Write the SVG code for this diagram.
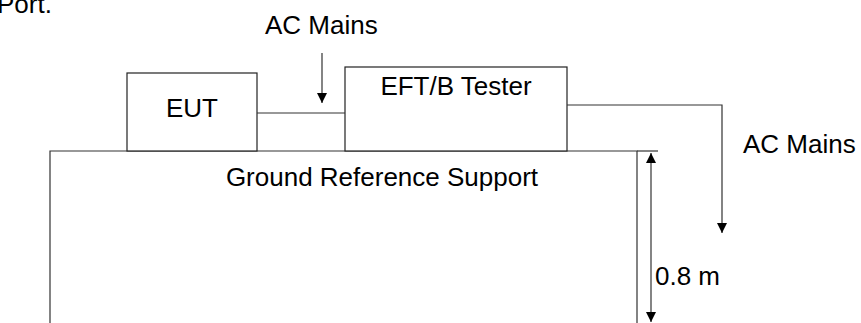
<svg xmlns="http://www.w3.org/2000/svg" width="861" height="323" viewBox="0 0 861 323">
  <style>
    .t { font-family: "Liberation Sans", Arial, sans-serif; font-size: 26px; fill: #000; }
    .box { fill: #fff; stroke: #222; stroke-width: 1.2; }
    .ln { fill: none; stroke: #333; stroke-width: 1.2; }
  </style>
  <defs>
    <marker id="ah" viewBox="0 0 10 10" refX="10" refY="5" markerWidth="10" markerHeight="10" markerUnits="userSpaceOnUse" orient="auto">
      <path d="M0,0 L10,5 L0,10 Z" fill="#000"/>
    </marker>
  </defs>
  <rect width="861" height="323" fill="#fff"/>
  <text class="t" x="-3" y="13">Port.</text>

  <g id="ground">
    <path class="ln" d="M50,323 V151 H637 V323"/>
    <text class="t" x="382" y="186" text-anchor="middle">Ground Reference Support</text>
  </g>

  <g id="eut">
    <rect class="box" x="127" y="73" width="130" height="78"/>
    <text class="t" x="192" y="117" text-anchor="middle">EUT</text>
  </g>

  <g id="tester">
    <rect class="box" x="345" y="67" width="222" height="84"/>
    <text class="t" x="456" y="95" text-anchor="middle">EFT/B Tester</text>
  </g>

  <g id="acmains-top">
    <text class="t" x="265" y="34">AC Mains</text>
  </g>

  <g id="acmains-right">
    <text class="t" x="743" y="153">AC Mains</text>
  </g>

  <g id="dimension">
    <text class="t" x="655" y="285">0.8 m</text>
  </g>

  <g id="connectors">
    <line class="ln" x1="257" y1="113" x2="345" y2="113"/>
    <line class="ln" x1="322" y1="53" x2="322" y2="103" marker-end="url(#ah)"/>
    <path class="ln" d="M567,105 H722 V233" marker-end="url(#ah)"/>
    <line class="ln" x1="637" y1="151" x2="658" y2="151"/>
    <line class="ln" x1="651" y1="240" x2="651" y2="153" marker-end="url(#ah)"/>
    <line class="ln" x1="651" y1="240" x2="651" y2="322" marker-end="url(#ah)"/>
  </g>
</svg>
